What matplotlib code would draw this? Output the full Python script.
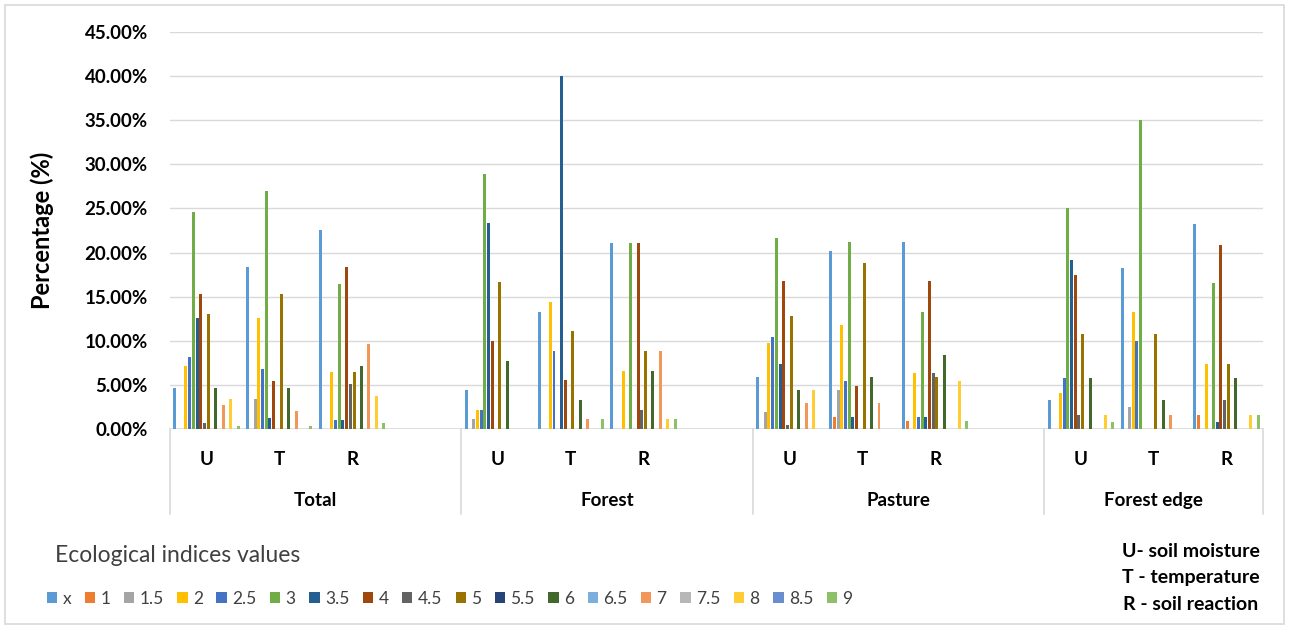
import matplotlib.pyplot as plt
from matplotlib.patches import Patch, Rectangle
from matplotlib.ticker import FuncFormatter

plt.rcParams['font.family'] = ['Lato', 'DejaVu Sans']

# ecological indicator values (legend order) and Excel-style colours
indices = ['x', '1', '1.5', '2', '2.5', '3', '3.5', '4', '4.5',
           '5', '5.5', '6', '6.5', '7', '7.5', '8', '8.5', '9']
colors = ['#5B9BD5', '#ED7D31', '#A5A5A5', '#FFC000', '#4472C4', '#70AD47',
          '#255E91', '#9E480E', '#636363', '#997300', '#264478', '#43682B',
          '#7CAFDD', '#F1975A', '#B7B7B7', '#FFCD33', '#698ED0', '#8CC168']

sites = ['Total', 'Forest', 'Pasture', 'Forest edge']
factors = ['U', 'T', 'R']

# percentage of species per index value
# order: Total U,T,R | Forest U,T,R | Pasture U,T,R | Forest edge U,T,R
val_x   = [4.7, 18.4, 22.6, 4.4, 13.3, 21.1, 5.9, 20.2, 21.25, 3.3, 18.3, 23.25]
val_1   = [0, 0, 0, 0, 0, 0, 0, 1.4, 0.95, 0, 0, 1.6]
val_1_5 = [0, 3.35, 0, 1.1, 0, 0, 1.9, 4.4, 0, 0, 2.45, 0]
val_2   = [7.1, 12.6, 6.5, 2.2, 14.4, 6.6, 9.8, 11.8, 6.4, 4.1, 13.3, 7.4]
val_2_5 = [8.2, 6.8, 1.0, 2.2, 8.8, 0, 10.4, 5.4, 1.4, 5.8, 9.95, 0]
val_3   = [24.6, 27.0, 16.4, 28.9, 0, 21.1, 21.7, 21.25, 13.3, 25.0, 35.0, 16.6]
val_3_5 = [12.6, 1.3, 1.0, 23.3, 40.0, 0, 7.4, 1.4, 1.4, 19.1, 0, 0.8]
val_4   = [15.3, 5.4, 18.4, 10.0, 5.5, 21.1, 16.8, 4.9, 16.8, 17.5, 0, 20.8]
val_4_5 = [0.7, 0, 5.1, 0, 0, 2.2, 0.4, 0, 6.4, 1.6, 0, 3.3]
val_5   = [13.0, 15.3, 6.5, 16.7, 11.1, 8.8, 12.8, 18.8, 5.9, 10.8, 10.8, 7.4]
val_5_5 = [0] * 12
val_6   = [4.7, 4.7, 7.1, 7.7, 3.3, 6.6, 4.4, 5.9, 8.4, 5.8, 3.3, 5.8]
val_6_5 = [0] * 12
val_7   = [2.7, 2.0, 9.6, 0, 1.1, 8.8, 2.9, 2.9, 0, 0, 1.6, 0]
val_7_5 = [0] * 12
val_8   = [3.35, 0, 3.7, 0, 0, 1.1, 4.4, 0, 5.4, 1.6, 0, 1.6]
val_8_5 = [0] * 12
val_9   = [0.3, 0.3, 0.64, 0, 1.1, 1.1, 0, 0, 0.95, 0.8, 0, 1.6]

series = [val_x, val_1, val_1_5, val_2, val_2_5, val_3, val_3_5, val_4, val_4_5,
          val_5, val_5_5, val_6, val_6_5, val_7, val_7_5, val_8, val_8_5, val_9]

# each site takes four slots (U, T, R, empty), the last one only three
positions = [s * 4 + f for s in range(len(sites)) for f in range(len(factors))]
n_slots = 15

fig = plt.figure(figsize=(12.89, 6.28), dpi=100)
ax = fig.add_axes([170 / 1289, 1 - 429 / 628, 1093 / 1289, 397 / 628])

group_w = 0.92
slot = group_w / len(series)
for j, (vals, col) in enumerate(zip(series, colors)):
    xs = [p + (1 - group_w) / 2 + (j + 0.5) * slot for p in positions]
    ax.bar(xs, vals, width=slot * 0.8, color=col, zorder=3, linewidth=0)

ax.set_xlim(0, n_slots)
ax.set_ylim(0, 45)
ax.set_yticks(range(0, 46, 5))
ax.yaxis.set_major_formatter(FuncFormatter(lambda v, _: f'{v:.2f}%'))
ax.set_xticks([])
ax.grid(axis='y', color='#D9D9D9', linewidth=1, zorder=0)
for sp in ax.spines.values():
    sp.set_visible(False)
ax.axhline(0, color='#D9D9D9', linewidth=1.2, zorder=2)
ax.tick_params(axis='y', length=0, pad=16, labelsize=13.5)
for lab in ax.get_yticklabels():
    lab.set_fontweight('bold')
ax.set_ylabel('Percentage (%)', fontsize=17, fontweight='bold', labelpad=22)

# two-level category axis
trans = ax.get_xaxis_transform()
for p in positions:
    ax.text(p + 0.5, -0.078, factors[p % 4], transform=trans, ha='center',
            va='center', fontsize=13.5, fontweight='bold')
for s, name in enumerate(sites):
    left = s * 4
    right = min(left + 4, n_slots)
    ax.text((left + right) / 2, -0.179, name, transform=trans, ha='center',
            va='center', fontsize=13.5, fontweight='bold')
for b in [0, 4, 8, 12, 15]:
    ax.plot([b, b], [0, -0.214], transform=trans, color='#D9D9D9',
            linewidth=1.2, clip_on=False)

# legend
fig.text(55 / 1289, 1 - 556 / 628, 'Ecological indices values', fontsize=16.5,
         color='#404040', va='center', ha='left')
handles = [Patch(facecolor=c, edgecolor='none') for c in colors]
fig.legend(handles, indices, loc='center left',
           bbox_to_anchor=(40 / 1289, 1 - 599 / 628), ncol=len(indices),
           frameon=False, fontsize=12.5, labelcolor='#404040',
           handlelength=0.6, handleheight=0.6, handletextpad=0.3,
           columnspacing=0.78, borderaxespad=0)

fig.text(1191 / 1289, 1 - 578 / 628,
         'U- soil moisture\nT - temperature\nR - soil reaction',
         ha='center', va='center', fontsize=14, fontweight='bold',
         linespacing=1.68)

fig.patches.append(Rectangle((5 / 1289, 4 / 628), 1279 / 1289, 619 / 628,
                             transform=fig.transFigure, fill=False,
                             edgecolor='#D9D9D9', linewidth=1.2))

fig.savefig('out.png', dpi=100)
